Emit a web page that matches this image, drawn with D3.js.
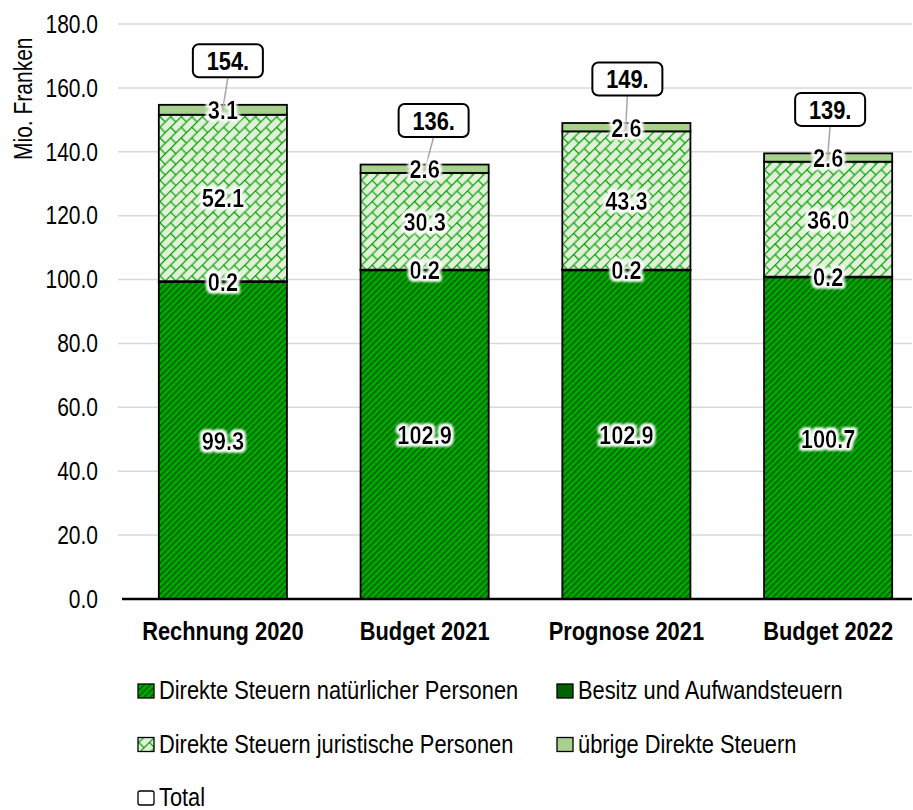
<!DOCTYPE html>
<html>
<head>
<meta charset="utf-8">
<script src="https://cdn.jsdelivr.net/npm/d3@7"></script>
<style>
  body { margin: 0; background: #fff; }
  svg { display: block; font-family: "Liberation Sans", Arial, sans-serif; }
</style>
</head>
<body>
<svg></svg>
<script>
// Data
const categories = ['Rechnung 2020', 'Budget 2021', 'Prognose 2021', 'Budget 2022'];
const seriesNames = ['Direkte Steuern natürlicher Personen', 'Besitz und Aufwandsteuern',
                     'Direkte Steuern juristische Personen', 'übrige Direkte Steuern'];
const natuerliche = [99.3, 102.9, 102.9, 100.7];
const besitz = [0.2, 0.2, 0.2, 0.2];
const juristische = [52.1, 30.3, 43.3, 36.0];
const uebrige = [3.1, 2.6, 2.6, 2.6];
const yTicks = [0, 20, 40, 60, 80, 100, 120, 140, 160, 180];

const width = 913, height = 810;
const svg = d3.select('svg').attr('width', width).attr('height', height);

// narrow font look: squeeze Liberation Sans horizontally
const SX = 0.84;
const at = (px, py) => `translate(${px},${py}) scale(${SX},1)`;

// patterns + glow
const defs = svg.append('defs');

const pNat = defs.append('pattern')
    .attr('id', 'pNat').attr('patternUnits', 'userSpaceOnUse')
    .attr('width', 4.4).attr('height', 4.4)
    .attr('patternTransform', 'rotate(45)');
pNat.append('rect').attr('width', 4.4).attr('height', 4.4).attr('fill', '#00a800');
pNat.append('rect').attr('width', 1.8).attr('height', 4.4).attr('fill', '#006a00');

const T = 15, H = T / 2;
const pJur = defs.append('pattern')
    .attr('id', 'pJur').attr('patternUnits', 'userSpaceOnUse')
    .attr('width', T).attr('height', T)
    .attr('patternTransform', 'rotate(-45)');
pJur.append('rect').attr('width', T).attr('height', T).attr('fill', '#e2f0d9');
[[0, 0.6, T, 0.6], [0, H + 0.6, T, H + 0.6], [0.6, 0, 0.6, H + 0.6], [H + 0.6, H + 0.6, H + 0.6, T]]
  .forEach(l => pJur.append('line')
    .attr('x1', l[0]).attr('y1', l[1]).attr('x2', l[2]).attr('y2', l[3])
    .attr('stroke', '#00a000').attr('stroke-width', 1.2));

const glow = defs.append('filter').attr('id', 'glow')
    .attr('x', '-30%').attr('y', '-30%').attr('width', '160%').attr('height', '160%');
glow.append('feMorphology').attr('in', 'SourceAlpha').attr('operator', 'dilate').attr('radius', 2).attr('result', 'd');
glow.append('feGaussianBlur').attr('in', 'd').attr('stdDeviation', 1.6).attr('result', 'b');
glow.append('feFlood').attr('flood-color', '#fff');
glow.append('feComposite').attr('in2', 'b').attr('operator', 'in').attr('result', 'w');
const gm = glow.append('feMerge');
gm.append('feMergeNode').attr('in', 'w');
gm.append('feMergeNode').attr('in', 'w');
gm.append('feMergeNode').attr('in', 'SourceGraphic');

const fills = ['url(#pNat)', '#006100', 'url(#pJur)', '#a9d18e'];

// Scales
const x = d3.scaleBand().domain(categories).range([122, 929])
    .paddingInner(0.365).paddingOuter(0.1825);
const y = d3.scaleLinear().domain([0, 180]).range([599, 24]);

// Gridlines + tick labels
svg.append('g').selectAll('line').data(yTicks.slice(1)).enter().append('line')
    .attr('x1', 118).attr('x2', 912)
    .attr('y1', d => y(d)).attr('y2', d => y(d))
    .attr('stroke', '#d9d9d9').attr('stroke-width', 1.5);

svg.append('g').selectAll('text').data(yTicks).enter().append('text')
    .attr('transform', d => at(98, y(d)))
    .attr('dy', '0.35em')
    .attr('text-anchor', 'end')
    .style('font-size', '25px').attr('fill', '#000')
    .text(d => d3.format('.1f')(d));

svg.append('text')
    .attr('transform', `translate(32,160) rotate(-90) scale(${SX},1)`)
    .style('font-size', '25px')
    .text('Mio. Franken');

// Stack
const rows = categories.map((c, i) => ({
  cat: c, s0: natuerliche[i], s1: besitz[i], s2: juristische[i], s3: uebrige[i]
}));
const keys = ['s0', 's1', 's2', 's3'];
const stacked = d3.stack().keys(keys)(rows);

const bars = svg.append('g');
stacked.forEach((layer, k) => {
  bars.selectAll(null).data(layer).enter().append('rect')
      .attr('x', d => x(d.data.cat))
      .attr('width', x.bandwidth())
      .attr('y', d => y(d[1]))
      .attr('height', d => y(d[0]) - y(d[1]))
      .attr('fill', fills[k])
      .attr('stroke', '#000').attr('stroke-width', 1.8);
});

// baseline
svg.append('line').attr('x1', 122).attr('x2', 912).attr('y1', y(0)).attr('y2', y(0))
    .attr('stroke', '#000').attr('stroke-width', 2.5);

// Total callouts
const totals = rows.map(r => r.s0 + r.s1 + r.s2 + r.s3);
const boxDx = [5, 9, 1, 2];
const bw = 70, bh = 33;
const callouts = svg.append('g');
totals.forEach((t, i) => {
  const cx = x(categories[i]) + x.bandwidth() / 2;
  const bx = cx + boxDx[i], by = y(t) - 44;
  callouts.append('line')
      .attr('x1', bx).attr('y1', by + bh / 2)
      .attr('x2', cx - 1).attr('y2', y(t) + 10)
      .attr('stroke', '#a6a6a6').attr('stroke-width', 1.5);
  callouts.append('rect')
      .attr('x', bx - bw / 2).attr('y', by - bh / 2)
      .attr('width', bw).attr('height', bh).attr('rx', 6)
      .attr('fill', '#fff').attr('stroke', '#000').attr('stroke-width', 2);
  callouts.append('text')
      .attr('transform', at(bx, by)).attr('dy', '0.36em')
      .attr('text-anchor', 'middle')
      .style('font-size', '26px').style('font-weight', 'bold')
      .text(Math.floor(t + 1e-6) + '.');
});

// Value labels
const labels = svg.append('g').attr('filter', 'url(#glow)');
stacked.forEach(layer => {
  labels.selectAll(null).data(layer).enter().append('text')
      .attr('transform', d => at(x(d.data.cat) + x.bandwidth() / 2, y((d[0] + d[1]) / 2)))
      .attr('dy', '0.36em')
      .attr('text-anchor', 'middle')
      .style('font-size', '26px').style('font-weight', 'bold')
      .text(d => d3.format('.1f')(d[1] - d[0]));
});

// Category labels
svg.append('g').selectAll('text').data(categories).enter().append('text')
    .attr('transform', d => at(x(d) + x.bandwidth() / 2, 640))
    .attr('text-anchor', 'middle')
    .style('font-size', '26px').style('font-weight', 'bold')
    .text(d => d);

// Legend
const legendItems = seriesNames.map((n, i) => ({ name: n, fill: fills[i] }))
    .concat([{ name: 'Total', fill: '#fff' }]);
const legend = svg.append('g');
legendItems.forEach((d, i) => {
  const col = i % 2, row = Math.floor(i / 2);
  const lx = col === 0 ? 138 : 557;
  const ly = 699 + row * 53.5;
  legend.append('rect')
      .attr('x', lx).attr('y', ly - 15)
      .attr('width', 16).attr('height', 14)
      .attr('rx', d.name === 'Total' ? 2 : 0)
      .attr('fill', d.fill).attr('stroke', '#000').attr('stroke-width', 1.3);
  legend.append('text')
      .attr('transform', at(lx + 21, ly))
      .style('font-size', '26px')
      .text(d.name);
});
</script>
</body>
</html>
